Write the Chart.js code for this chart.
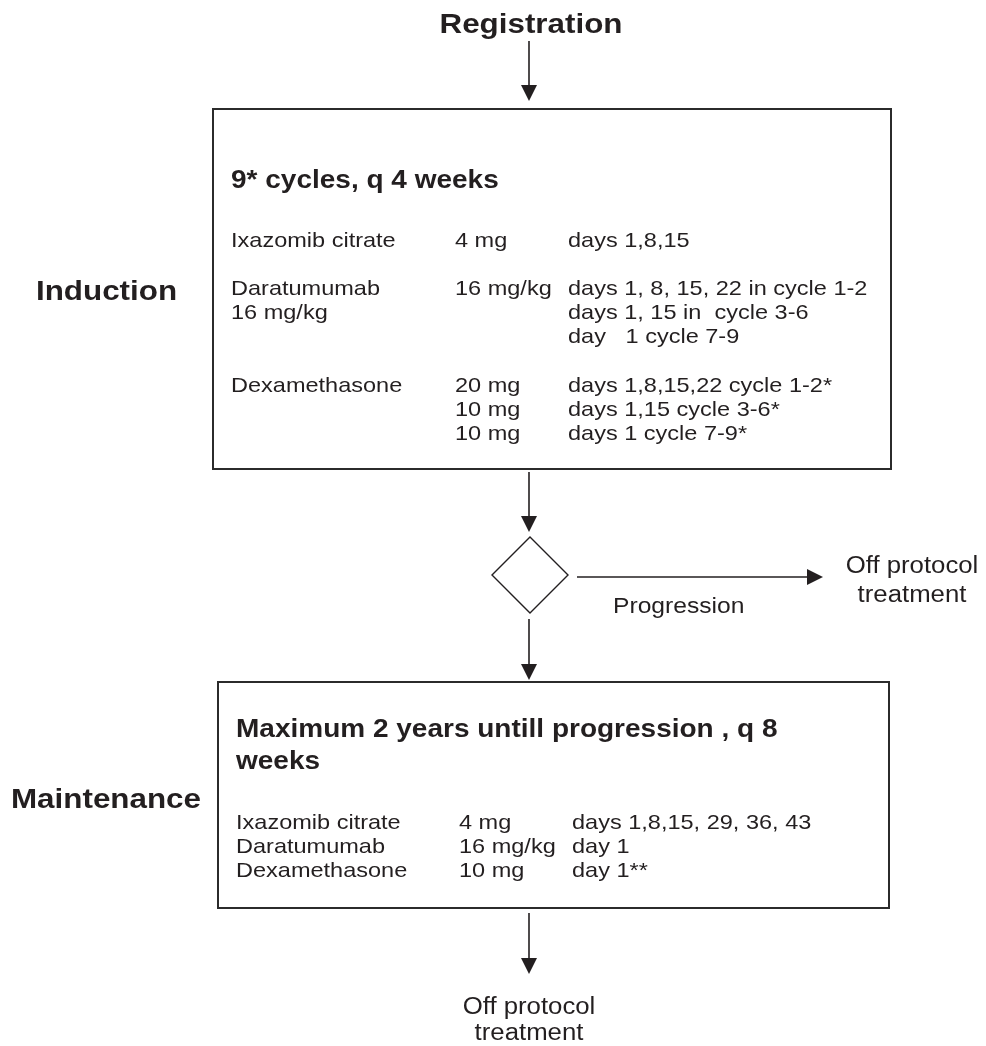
<!DOCTYPE html>
<html>
<head>
<meta charset="utf-8">
<script src="https://cdn.jsdelivr.net/npm/chart.js@4.4.1/dist/chart.umd.min.js"></script>
<style>
  html, body { margin: 0; padding: 0; background: #fff; }
  #wrap { width: 986px; height: 1046px; }
</style>
</head>
<body>
<div id="wrap"><canvas id="flow" width="986" height="1046"></canvas></div>
<script>
// --- content of the flow chart ---
const startLabel = 'Registration';
const phaseLabels = ['Induction', 'Maintenance'];
const decisionLabel = 'Progression';
const offLabel = ['Off protocol', 'treatment'];

const inductionTitle = ['9* cycles, q 4 weeks'];
const inductionDrug = ['Ixazomib citrate', '', 'Daratumumab', '16 mg/kg', '', '', 'Dexamethasone', '', ''];
const inductionDose = ['4 mg', '', '16 mg/kg', '', '', '', '20 mg', '10 mg', '10 mg'];
const inductionDays = ['days 1,8,15', '', 'days 1, 8, 15, 22 in cycle 1-2', 'days 1, 15 in  cycle 3-6',
  'day   1 cycle 7-9', '', 'days 1,8,15,22 cycle 1-2*', 'days 1,15 cycle 3-6*', 'days 1 cycle 7-9*'];

const maintTitle = ['Maximum 2 years untill progression , q 8', 'weeks'];
const maintDrug = ['Ixazomib citrate', 'Daratumumab', 'Dexamethasone'];
const maintDose = ['4 mg', '16 mg/kg', '10 mg'];
const maintDays = ['days 1,8,15, 29, 36, 43', 'day 1', 'day 1**'];

// --- layout (in scale units, 1 unit = 1 px of the page) ---
const FONT = '"Liberation Sans", Arial, Helvetica, sans-serif';
const INK = '#231f20';
const STRETCH = 1.12;

const ctx = document.getElementById('flow').getContext('2d');

function txt(c, s, x, y, size, bold, align) {
  if (!s) return;
  c.save();
  c.translate(x, y);
  c.scale(STRETCH, 1);
  c.font = (bold ? 'bold ' : '') + size + 'px ' + FONT;
  c.fillStyle = INK;
  c.textAlign = align || 'left';
  c.textBaseline = 'alphabetic';
  c.fillText(s, 0, 0);
  c.restore();
}

function arrow(c, x1, y1, x2, y2) {
  const ang = Math.atan2(y2 - y1, x2 - x1);
  const head = 16, half = 8;
  c.save();
  c.strokeStyle = INK;
  c.fillStyle = INK;
  c.lineWidth = 1.6;
  c.beginPath();
  c.moveTo(x1, y1);
  c.lineTo(x2 - head * Math.cos(ang), y2 - head * Math.sin(ang));
  c.stroke();
  c.beginPath();
  c.moveTo(x2, y2);
  c.lineTo(x2 - head * Math.cos(ang) - half * Math.sin(ang), y2 - head * Math.sin(ang) + half * Math.cos(ang));
  c.lineTo(x2 - head * Math.cos(ang) + half * Math.sin(ang), y2 - head * Math.sin(ang) - half * Math.cos(ang));
  c.closePath();
  c.fill();
  c.restore();
}

new Chart(ctx, {
  type: 'scatter',
  data: { datasets: [{ data: [], pointRadius: 0 }] },
  options: {
    responsive: false,
    animation: false,
    devicePixelRatio: 1,
    layout: { padding: 0 },
    scales: {
      x: { type: 'linear', min: 0, max: 986, display: false },
      y: { type: 'linear', min: 0, max: 1046, reverse: true, display: false }
    },
    plugins: { legend: { display: false }, tooltip: { enabled: false } }
  },
  plugins: [{
    id: 'flowchart',
    afterDraw(chart) {
      const c = chart.ctx;
      const { x, y } = chart.scales;
      const X = v => x.getPixelForValue(v);
      const Y = v => y.getPixelForValue(v);

      c.save();
      c.fillStyle = '#fff';
      c.fillRect(0, 0, chart.width, chart.height);
      c.restore();

      // start
      txt(c, startLabel, X(531), Y(33), 28, true, 'center');
      arrow(c, X(529), Y(41), X(529), Y(101));

      // boxes
      c.save();
      c.strokeStyle = '#2b2b2b';
      c.lineWidth = 2;
      c.strokeRect(X(213), Y(109), X(891) - X(213), Y(469) - Y(109));
      c.strokeRect(X(218), Y(682), X(889) - X(218), Y(908) - Y(682));
      c.restore();

      // phase labels
      txt(c, phaseLabels[0], X(36), Y(300), 28, true, 'left');
      txt(c, phaseLabels[1], X(11), Y(808), 28, true, 'left');

      // induction box content
      inductionTitle.forEach((s, i) => txt(c, s, X(231), Y(188 + i * 32), 25, true));
      for (let i = 0; i < inductionDrug.length; i++) {
        const by = Y(247 + i * 24.1);
        txt(c, inductionDrug[i], X(231), by, 21, false);
        txt(c, inductionDose[i], X(455), by, 21, false);
        txt(c, inductionDays[i], X(568), by, 21, false);
      }

      // maintenance box content
      maintTitle.forEach((s, i) => txt(c, s, X(236), Y(737 + i * 32), 25, true));
      for (let i = 0; i < maintDrug.length; i++) {
        const by = Y(829 + i * 24);
        txt(c, maintDrug[i], X(236), by, 21, false);
        txt(c, maintDose[i], X(459), by, 21, false);
        txt(c, maintDays[i], X(572), by, 21, false);
      }

      // decision
      arrow(c, X(529), Y(472), X(529), Y(532));
      c.save();
      c.strokeStyle = INK;
      c.lineWidth = 1.4;
      c.beginPath();
      c.moveTo(X(530), Y(537));
      c.lineTo(X(568), Y(575));
      c.lineTo(X(530), Y(613));
      c.lineTo(X(492), Y(575));
      c.closePath();
      c.stroke();
      c.restore();
      arrow(c, X(577), Y(577), X(823), Y(577));
      txt(c, decisionLabel, X(613), Y(613), 22, false);
      txt(c, offLabel[0], X(912), Y(573), 23, false, 'center');
      txt(c, offLabel[1], X(912), Y(602), 23, false, 'center');

      arrow(c, X(529), Y(619), X(529), Y(680));
      arrow(c, X(529), Y(913), X(529), Y(974));
      txt(c, offLabel[0], X(529), Y(1014), 23, false, 'center');
      txt(c, offLabel[1], X(529), Y(1040), 23, false, 'center');
    }
  }]
});
</script>
</body>
</html>
